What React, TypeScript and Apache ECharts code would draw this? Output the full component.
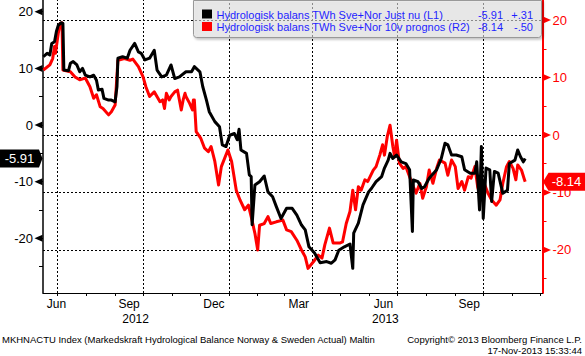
import React, { useEffect, useRef } from 'react';
import * as echarts from 'echarts';

// ---------- data ----------
const BLACK_DATES = [
  '2012-06-16','2012-06-20','2012-06-23','2012-06-25','2012-06-28','2012-06-30','2012-07-02','2012-07-05','2012-07-07','2012-07-08',
  '2012-07-13','2012-07-15','2012-07-18','2012-07-22','2012-07-25','2012-07-28','2012-07-31','2012-08-05','2012-08-09','2012-08-12',
  '2012-08-14','2012-08-18','2012-08-20','2012-08-25','2012-08-28','2012-09-01','2012-09-03','2012-09-04','2012-09-09','2012-09-14',
  '2012-09-17','2012-09-22','2012-09-26','2012-09-29','2012-10-03','2012-10-08','2012-10-13','2012-10-16','2012-10-21','2012-10-26',
  '2012-10-31','2012-11-04','2012-11-09','2012-11-16','2012-11-22','2012-11-25','2012-12-01','2012-12-04','2012-12-08','2012-12-11',
  '2012-12-17','2012-12-22','2012-12-25','2012-12-29','2013-01-02','2013-01-07','2013-01-10','2013-01-12','2013-01-14','2013-01-20',
  '2013-01-23','2013-01-25','2013-01-26','2013-01-29','2013-02-03','2013-02-08','2013-02-12','2013-02-17','2013-02-21','2013-02-26',
  '2013-03-04','2013-03-10','2013-03-15','2013-03-20','2013-03-24','2013-03-28','2013-04-03','2013-04-09','2013-04-16','2013-04-21',
  '2013-04-25','2013-04-29','2013-05-05','2013-05-11','2013-05-14','2013-05-15','2013-05-20','2013-05-25','2013-05-31','2013-06-03',
  '2013-06-08','2013-06-14','2013-06-17','2013-06-21','2013-06-23','2013-06-26','2013-06-30','2013-07-05','2013-07-10','2013-07-14',
  '2013-07-17','2013-07-18','2013-07-23','2013-07-27','2013-07-30','2013-08-04','2013-08-12','2013-08-17','2013-08-21','2013-08-24',
  '2013-08-28','2013-09-02','2013-09-08','2013-09-11','2013-09-17','2013-09-22','2013-09-24','2013-09-27','2013-09-29','2013-10-01',
  '2013-10-04','2013-10-08','2013-10-10','2013-10-13','2013-10-17','2013-10-22','2013-10-27','2013-10-29','2013-11-04','2013-11-07',
  '2013-11-10','2013-11-13','2013-11-14','2013-11-15',
];
const BLACK_VALUES = [
  12.05, 12.65, 12.35, 14.4, 14.7, 16.5, 17.6, 18.05, 17.95, 9.7,
  9.6, 10.9, 11.2, 10.6, 9.4, 10.0, 8.8, 8.5, 8.8, 7.9,
  6.2, 6.3, 4.7, 4.4, 4.4, 4.1, 6.8, 11.8, 12.05, 11.8,
  13.2, 14.4, 12.9, 12.65, 11.5, 11.8, 13.2, 9.7, 8.5, 8.8,
  10.6, 8.2, 8.5, 9.4, 9.4, 10.3, 9.4, 6.8, 4.4, 2.35,
  0.6, -0.3, -3.5, -3.8, -1.8, -1.5, -2.6, -0.75, -4.4, -5.0,
  -8.8, -9.1, -17.6, -10.6, -10.0, -9.0, -11.8, -12.65, -14.4, -16.5,
  -14.7, -14.7, -15.9, -17.65, -18.5, -21.5, -22.6, -24.3, -24.1, -24.4,
  -23.8, -22.1, -21.5, -21.0, -25.3, -19.1, -17.3, -14.1, -11.8, -11.2,
  -10.0, -9.1, -7.6, -6.2, -5.0, -5.9, -5.3, -6.5, -6.8, -7.9,
  -18.8, -9.7, -10.0, -11.2, -10.9, -9.4, -7.9, -5.9, -3.2, -3.5,
  -5.3, -5.3, -5.6, -7.9, -8.5, -8.5, -6.5, -15.0, -3.8, -16.5,
  -7.6, -7.9, -13.5, -8.2, -8.5, -12.05, -11.5, -6.8, -6.2, -4.4,
  -5.6, -6.5, -6.22, -5.91,
];

const RED_DATES = [
  '2012-06-16','2012-06-23','2012-06-26','2012-06-28','2012-06-29','2012-07-02','2012-07-04','2012-07-06','2012-07-07','2012-07-15',
  '2012-07-20','2012-07-25','2012-07-31','2012-08-05','2012-08-09','2012-08-12','2012-08-16','2012-08-19','2012-08-25','2012-08-28',
  '2012-09-01','2012-09-04','2012-09-11','2012-09-17','2012-09-20','2012-09-26','2012-10-01','2012-10-04','2012-10-08','2012-10-13',
  '2012-10-17','2012-10-19','2012-10-22','2012-10-24','2012-10-26','2012-10-29','2012-10-31','2012-11-04','2012-11-07','2012-11-11',
  '2012-11-13','2012-11-15','2012-11-16','2012-11-20','2012-11-23','2012-11-24','2012-11-25','2012-11-27','2012-12-02','2012-12-06',
  '2012-12-10','2012-12-13','2012-12-17','2012-12-21','2012-12-24','2012-12-31','2013-01-04','2013-01-09','2013-01-13','2013-01-18',
  '2013-01-22','2013-01-25','2013-01-29','2013-02-01','2013-02-03','2013-02-08','2013-02-12','2013-02-15','2013-02-21','2013-02-28',
  '2013-03-04','2013-03-09','2013-03-15','2013-03-20','2013-03-24','2013-03-27','2013-04-02','2013-04-07','2013-04-11','2013-04-14',
  '2013-04-19','2013-04-23','2013-04-30','2013-05-03','2013-05-07','2013-05-11','2013-05-14','2013-05-17','2013-05-20','2013-05-23',
  '2013-05-27','2013-05-30','2013-06-05','2013-06-08','2013-06-12','2013-06-15','2013-06-17','2013-06-20','2013-06-23','2013-06-26',
  '2013-06-28','2013-06-30','2013-07-03','2013-07-07','2013-07-10','2013-07-14','2013-07-18','2013-07-21','2013-07-25','2013-07-28',
  '2013-08-01','2013-08-04','2013-08-08','2013-08-12','2013-08-15','2013-08-21','2013-08-24','2013-08-28','2013-09-01','2013-09-04',
  '2013-09-08','2013-09-11','2013-09-15','2013-09-18','2013-09-22','2013-09-25','2013-09-29','2013-10-02','2013-10-06','2013-10-10',
  '2013-10-15','2013-10-19','2013-10-22','2013-10-26','2013-10-29','2013-11-02','2013-11-05','2013-11-07','2013-11-11','2013-11-14',
  '2013-11-15',
];
const RED_VALUES = [
  11.3, 12.2, 13.3, 15.4, 14.2, 17.7, 19.4, 19.5, 11.3, 11.0,
  10.1, 9.6, 9.9, 8.4, 6.4, 7.0, 4.9, 4.6, 3.5, 4.05,
  5.2, 13.0, 13.3, 13.0, 13.2, 11.9, 10.1, 8.4, 6.7, 7.5,
  6.4, 5.8, 6.1, 4.6, 7.25, 6.1, 6.7, 7.5, 7.8, 4.35,
  6.1, 7.25, 6.7, 5.5, 4.35, 6.1, 6.1, 0.6, -0.6, -2.3,
  -2.9, -2.0, -4.6, -8.7, -5.5, -2.6, -4.6, -9.6, -11.3, -13.0,
  -12.2, -14.2, -17.1, -20.0, -15.7, -15.4, -14.2, -15.4, -15.1, -14.8,
  -16.5, -16.8, -18.3, -20.0, -21.2, -23.2, -22.0, -20.9, -21.4, -19.1,
  -16.2, -18.8, -18.8, -18.6, -15.4, -13.3, -9.6, -13.0, -9.0, -9.6,
  -7.8, -8.1, -6.1, -5.5, -3.5, -1.7, -3.5, -0.3, 1.7, -2.0,
  -3.8, -0.9, -4.9, -5.8, -5.5, -7.25, -9.0, -10.1, -8.4, -11.0,
  -9.0, -6.1, -8.4, -5.8, -4.35, -4.9, -7.0, -4.35, -5.5, -9.3,
  -8.1, -9.6, -7.25, -7.5, -5.5, -9.0, -11.3, -8.4, -10.1, -11.3,
  -12.2, -11.3, -8.4, -5.5, -4.6, -5.8, -7.8, -5.2, -6.1, -7.64,
  -8.14,
];

const BLACK_NAME = 'Hydrologisk balans TWh Sve+Nor Just nu (L1)';
const RED_NAME = 'Hydrologisk balans TWh Sve+Nor 10v prognos (R2)';

const LEFT_LABELS = [-20, -10, 0, 10, 20];
const LEFT_TICKS = [-25, -20, -15, -10, -5, 0, 5, 10, 15, 20];
const RIGHT_LABELS = [-20, -10, 0, 10, 20];
const RIGHT_TICKS = [-25, -20, -15, -10, -5, 0, 5, 10, 15, 20];
const LEFT_RANGE = [-29.65, 22.07];
const RIGHT_RANGE = [-27.48, 23.48];
const RIGHT_GRID_VALUES = [-20, -10, 0, 10, 20];

const X_RANGE = ['2012-06-15 15:00', '2013-12-03 14:00'];
const MONTH_TICKS = [
  '2012-07-01','2012-08-01','2012-09-01','2012-10-01','2012-11-01','2012-12-01','2013-01-01','2013-02-01','2013-03-01',
  '2013-04-01','2013-05-01','2013-06-01','2013-07-01','2013-08-01','2013-09-01','2013-10-01','2013-11-01','2013-12-01',
];
const MONTH_LABELS = ['Jun', 'Sep', 'Dec', 'Mar', 'Jun', 'Sep'];
const MONTH_LABEL_DATES = ['2012-06-30', '2012-09-16', '2012-12-16', '2013-03-17', '2013-06-16', '2013-09-16'];
const YEAR_LABELS = ['2012', '2013'];
const YEAR_LABEL_DATES = ['2012-09-23', '2013-06-18'];
const YEAR_BREAKS = ['2013-01-01'];
const QUARTER_LINES = ['2012-07-01', '2012-10-01', '2013-01-01', '2013-04-01', '2013-07-01', '2013-10-01'];

const FOOTER_LEFT = 'MKHNACTU Index (Markedskraft Hydrological Balance Norway & Sweden Actual) Maltin';
const FOOTER_RIGHT = 'Copyright\u00A9 2013 Bloomberg Finance L.P.';
const FOOTER_DATE = '17-Nov-2013 15:33:44';

// ---------- helpers ----------
const t = (s: string): number => {
  const [datePart, timePart] = s.split(' ');
  const [y, m, d] = datePart.split('-').map(Number);
  let hh = 0;
  let mm = 0;
  if (timePart) [hh, mm] = timePart.split(':').map(Number);
  return new Date(y, m - 1, d, hh, mm).getTime();
};
const fmtChange = (v: number) => {
  const s = Math.abs(v).toFixed(2).replace(/^0/, '');
  return (v >= 0 ? '+' : '-') + s;
};
const FONT = 'Tahoma, "Liberation Sans", Arial, sans-serif';

export default function App() {
  const ref = useRef<HTMLDivElement>(null);

  useEffect(() => {
    if (!ref.current) return;
    const chart = echarts.init(ref.current, undefined, { renderer: 'svg' });

    const xMin = t(X_RANGE[0]);
    const xMax = t(X_RANGE[1]);
    const blackData = BLACK_DATES.map((d, i) => [t(d), BLACK_VALUES[i]]);
    const redData = RED_DATES.map((d, i) => [t(d), RED_VALUES[i]]);
    const bLast = BLACK_VALUES[BLACK_VALUES.length - 1];
    const bPrev = BLACK_VALUES[BLACK_VALUES.length - 2];
    const rLast = RED_VALUES[RED_VALUES.length - 1];
    const rPrev = RED_VALUES[RED_VALUES.length - 2];

    const monthPos = MONTH_LABEL_DATES.map(t);
    const yearPos = YEAR_LABEL_DATES.map(t);
    const lookup = (pos: number[], labels: string[], v: number) => {
      let best = -1;
      let bestD = Infinity;
      pos.forEach((p, i) => {
        const d = Math.abs(p - v);
        if (d < bestD) { bestD = d; best = i; }
      });
      return best >= 0 && bestD < 86400000 ? labels[best] : '';
    };

    const option: any = {
      animation: false,
      backgroundColor: '#ffffff',
      textStyle: { fontFamily: FONT },
      grid: { left: 43, right: 42.5, top: 0, bottom: 63, containLabel: false, outerBoundsMode: 'none' },
      xAxis: [
        {
          type: 'value',
          min: xMin,
          max: xMax,
          position: 'bottom',
          axisLine: { show: true, onZero: false, lineStyle: { color: '#000', width: 1 } },
          axisTick: { show: true, customValues: MONTH_TICKS.map(t), length: 3, lineStyle: { color: '#000', width: 1 } },
          axisLabel: {
            show: true,
            customValues: monthPos,
            formatter: (v: number) => lookup(monthPos, MONTH_LABELS, v),
            color: '#000',
            fontSize: 12,
            margin: 5,
            fontFamily: FONT,
          },
          splitLine: { show: false },
        },
        {
          type: 'value',
          min: xMin,
          max: xMax,
          position: 'bottom',
          offset: 18,
          axisLine: { show: false },
          axisTick: { show: true, customValues: YEAR_BREAKS.map(t), length: 16, lineStyle: { color: '#7f7f7f', width: 1 } },
          axisLabel: {
            show: true,
            customValues: yearPos,
            formatter: (v: number) => lookup(yearPos, YEAR_LABELS, v),
            color: '#000',
            fontSize: 12,
            margin: 2,
            fontFamily: FONT,
          },
          splitLine: { show: false },
        },
      ],
      yAxis: [
        {
          type: 'value',
          position: 'left',
          min: LEFT_RANGE[0],
          max: LEFT_RANGE[1],
          axisLine: { show: true, onZero: false, lineStyle: { color: '#000', width: 1.5 } },
          axisTick: { show: true, customValues: LEFT_TICKS, length: 4, lineStyle: { color: '#000', width: 1 } },
          axisLabel: { show: true, customValues: LEFT_LABELS, color: '#000', fontSize: 13, margin: 10, fontFamily: FONT },
          splitLine: { show: false },
        },
        {
          type: 'value',
          position: 'right',
          min: RIGHT_RANGE[0],
          max: RIGHT_RANGE[1],
          axisLine: { show: true, onZero: false, lineStyle: { color: '#ff0000', width: 2 } },
          axisTick: { show: true, customValues: RIGHT_TICKS, length: 4, lineStyle: { color: '#ff0000', width: 1 } },
          axisLabel: { show: true, customValues: RIGHT_LABELS, color: '#ff0000', fontSize: 13, margin: 10, fontFamily: FONT },
          splitLine: { show: false },
        },
      ],
      series: [
        {
          name: RED_NAME,
          type: 'line',
          xAxisIndex: 0,
          yAxisIndex: 1,
          data: redData,
          symbol: 'none',
          showSymbol: false,
          z: 10,
          lineStyle: { color: '#ff0000', width: 3, join: 'round' },
          silent: true,
          markLine: {
            z: 1,
            silent: true,
            symbol: 'none',
            label: { show: false },
            lineStyle: { color: '#000', type: [2, 2], width: 1 },
            emphasis: { disabled: true },
            data: [
              ...QUARTER_LINES.map((d) => ({ xAxis: t(d) })),
              ...RIGHT_GRID_VALUES.map((v) => ({ yAxis: v })),
            ],
          },
        },
        {
          name: BLACK_NAME,
          type: 'line',
          xAxisIndex: 0,
          yAxisIndex: 0,
          data: blackData,
          symbol: 'none',
          showSymbol: false,
          z: 11,
          silent: true,
          lineStyle: { color: '#000', width: 3, join: 'round' },
        },
        {
          type: 'custom',
          xAxisIndex: 0,
          yAxisIndex: 0,
          z: 20,
          silent: true,
          clip: false,
          data: LEFT_LABELS.map((v) => [xMin, v]),
          renderItem: (_p: any, api: any) => {
            const p = api.coord([api.value(0), api.value(1)]);
            return {
              type: 'polygon',
              shape: { points: [[p[0] - 0.5, p[1] - 3.5], [p[0] - 0.5, p[1] + 3.5], [p[0] - 8.5, p[1]]] },
              style: { fill: '#000' },
            };
          },
        },
        {
          type: 'custom',
          xAxisIndex: 0,
          yAxisIndex: 1,
          z: 20,
          silent: true,
          clip: false,
          data: RIGHT_LABELS.map((v) => [xMax, v]),
          renderItem: (_p: any, api: any) => {
            const p = api.coord([api.value(0), api.value(1)]);
            return {
              type: 'polygon',
              shape: { points: [[p[0] + 0.5, p[1] - 3.5], [p[0] + 0.5, p[1] + 3.5], [p[0] + 8.5, p[1]]] },
              style: { fill: '#ff0000' },
            };
          },
        },
        {
          type: 'custom',
          xAxisIndex: 0,
          yAxisIndex: 0,
          z: 30,
          silent: true,
          clip: false,
          data: [[xMin, bLast]],
          renderItem: (_p: any, api: any) => {
            const p = api.coord([api.value(0), api.value(1)]);
            const x = p[0];
            const y = p[1];
            return {
              type: 'group',
              children: [
                {
                  type: 'polygon',
                  shape: { points: [[x - 46, y - 9], [x - 4, y - 9], [x - 0.5, y], [x - 4, y + 9], [x - 46, y + 9]] },
                  style: { fill: '#000' },
                },
                {
                  type: 'text',
                  x: x - 23.5,
                  y: y,
                  style: { text: bLast.toFixed(2), fill: '#fff', font: `13px ${FONT}`, align: 'center', verticalAlign: 'middle' },
                },
              ],
            };
          },
        },
        {
          type: 'custom',
          xAxisIndex: 0,
          yAxisIndex: 1,
          z: 30,
          silent: true,
          clip: false,
          data: [[xMax, rLast]],
          renderItem: (_p: any, api: any) => {
            const p = api.coord([api.value(0), api.value(1)]);
            const x = p[0];
            const y = p[1];
            return {
              type: 'group',
              children: [
                {
                  type: 'polygon',
                  shape: { points: [[x + 0.5, y], [x + 6, y - 9], [x + 50, y - 9], [x + 50, y + 9], [x + 6, y + 9]] },
                  style: { fill: '#ff0000' },
                },
                {
                  type: 'text',
                  x: x + 24,
                  y: y,
                  style: { text: rLast.toFixed(2), fill: '#fff', font: `13px ${FONT}`, align: 'center', verticalAlign: 'middle' },
                },
              ],
            };
          },
        },
      ],
      graphic: [
        {
          type: 'rect',
          z: 50,
          silent: true,
          shape: { x: 193.5, y: 0.5, width: 348, height: 37, r: [0, 0, 3, 3] },
          style: {
            fill: 'rgba(232,232,232,0.55)',
            stroke: '#999999',
            lineWidth: 1,
            shadowBlur: 2,
            shadowOffsetX: 1.5,
            shadowOffsetY: 1.5,
            shadowColor: 'rgba(0,0,0,0.35)',
          },
        },
        { type: 'rect', z: 51, silent: true, shape: { x: 202, y: 9.5, width: 10, height: 9 }, style: { fill: '#000' } },
        { type: 'rect', z: 51, silent: true, shape: { x: 202, y: 22, width: 10, height: 9 }, style: { fill: '#ff0000' } },
        {
          type: 'text', z: 51, silent: true, x: 216.5, y: 14.5,
          style: { text: BLACK_NAME, fill: '#1f1fff', font: `11px ${FONT}`, verticalAlign: 'middle' },
        },
        {
          type: 'text', z: 51, silent: true, x: 216.5, y: 26.7,
          style: { text: RED_NAME, fill: '#1f1fff', font: `11px ${FONT}`, verticalAlign: 'middle' },
        },
        {
          type: 'text', z: 51, silent: true, x: 503, y: 14.5,
          style: { text: bLast.toFixed(2), fill: '#1f1fff', font: `11px ${FONT}`, align: 'right', verticalAlign: 'middle' },
        },
        {
          type: 'text', z: 51, silent: true, x: 533, y: 14.5,
          style: { text: fmtChange(bLast - bPrev), fill: '#1f1fff', font: `11px ${FONT}`, align: 'right', verticalAlign: 'middle' },
        },
        {
          type: 'text', z: 51, silent: true, x: 503, y: 26.7,
          style: { text: rLast.toFixed(2), fill: '#1f1fff', font: `11px ${FONT}`, align: 'right', verticalAlign: 'middle' },
        },
        {
          type: 'text', z: 51, silent: true, x: 533, y: 26.7,
          style: { text: fmtChange(rLast - rPrev), fill: '#1f1fff', font: `11px ${FONT}`, align: 'right', verticalAlign: 'middle' },
        },
        {
          type: 'text', z: 51, silent: true, x: 2, y: 339,
          style: { text: FOOTER_LEFT, fill: '#000', font: `9.5px ${FONT}`, verticalAlign: 'middle' },
        },
        {
          type: 'text', z: 51, silent: true, x: 582, y: 339,
          style: { text: FOOTER_RIGHT, fill: '#000', font: `9.5px ${FONT}`, align: 'right', verticalAlign: 'middle' },
        },
        {
          type: 'text', z: 51, silent: true, x: 582, y: 350.5,
          style: { text: FOOTER_DATE, fill: '#000', font: `9.5px ${FONT}`, align: 'right', verticalAlign: 'middle' },
        },
      ],
    };

    chart.setOption(option);
    return () => chart.dispose();
  }, []);

  return (
    <div
      ref={ref}
      style={{ position: 'fixed', left: 0, top: 0, width: 585, height: 356, background: '#fff' }}
    />
  );
}
